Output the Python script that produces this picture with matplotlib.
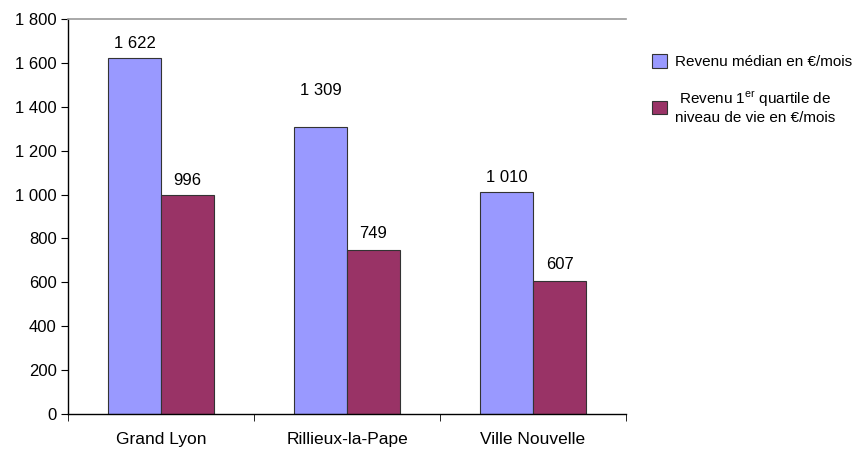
import matplotlib
import numpy as np

matplotlib.use("Agg")
import matplotlib.pyplot as plt
from matplotlib.patches import Patch
from matplotlib.ticker import FuncFormatter, MultipleLocator

# Data
categories = ["Grand Lyon", "Rillieux-la-Pape", "Ville Nouvelle"]
median_income = [1622, 1309, 1010]
first_quartile = [996, 749, 607]
series_labels = [
    "Revenu médian en €/mois",
    "Revenu 1$^{\\mathrm{er}}$ quartile de\nniveau de vie en €/mois",
]

BLUE = "#9999ff"
PLUM = "#993366"

plt.rcParams.update(
    {
        "font.family": ["Liberation Sans", "DejaVu Sans"],
        "mathtext.fontset": "custom",
        "mathtext.rm": "Liberation Sans",
        "font.size": 12,
    }
)


def fmt_thousands(v, _pos=None):
    return f"{int(round(v)):,}".replace(",", " ")


fig = plt.figure(figsize=(8.6, 4.5), dpi=100)
ax = fig.add_axes([0.079, 0.08, 0.649, 0.878])

x = np.arange(len(categories))
width = 0.285
b1 = ax.bar(x - width / 2, median_income, width, color=BLUE,
            edgecolor="#333333", linewidth=0.8)
b2 = ax.bar(x + width / 2, first_quartile, width, color=PLUM,
            edgecolor="#333333", linewidth=0.8)

# extra lift for the labels, in points (Excel placed 1 309 higher)
lift1 = [5, 21, 5]
lift2 = [5, 6, 6]
for bars, vals, lifts in ((b1, median_income, lift1), (b2, first_quartile, lift2)):
    for rect, v, d in zip(bars, vals, lifts):
        ax.annotate(fmt_thousands(v),
                    (rect.get_x() + rect.get_width() / 2, rect.get_height()),
                    xytext=(0, d), textcoords="offset points",
                    ha="center", va="bottom", fontsize=12)

ax.set_xlim(-0.5, len(categories) - 0.5)
ax.set_ylim(0, 1800)
ax.yaxis.set_major_locator(MultipleLocator(200))
ax.yaxis.set_major_formatter(FuncFormatter(fmt_thousands))
ax.set_xticks(x)
ax.set_xticklabels(categories, fontsize=12.5)
ax.set_xticks(np.arange(len(categories) + 1) - 0.5, minor=True)
ax.tick_params(axis="x", which="major", length=0, pad=13)
ax.tick_params(axis="x", which="minor", length=5, direction="out")
ax.tick_params(axis="y", length=5, direction="out", labelsize=12, pad=3)

for side in ("left", "bottom"):
    ax.spines[side].set_color("black")
    ax.spines[side].set_linewidth(1.0)
ax.spines["right"].set_visible(False)
ax.spines["top"].set_color("#999999")
ax.spines["top"].set_linewidth(1.2)

handles = [
    Patch(facecolor=BLUE, edgecolor="#333333", linewidth=0.8),
    Patch(facecolor=PLUM, edgecolor="#333333", linewidth=0.8),
]
leg = fig.legend(handles, series_labels, loc="upper left",
                 bbox_to_anchor=(0.742, 0.91), frameon=False,
                 fontsize=11, handlelength=1.0, handleheight=1.0,
                 handletextpad=0.5, labelspacing=1.3)
for t in leg.get_texts():
    t.set_multialignment("center")

fig.savefig("out.png", dpi=100)
